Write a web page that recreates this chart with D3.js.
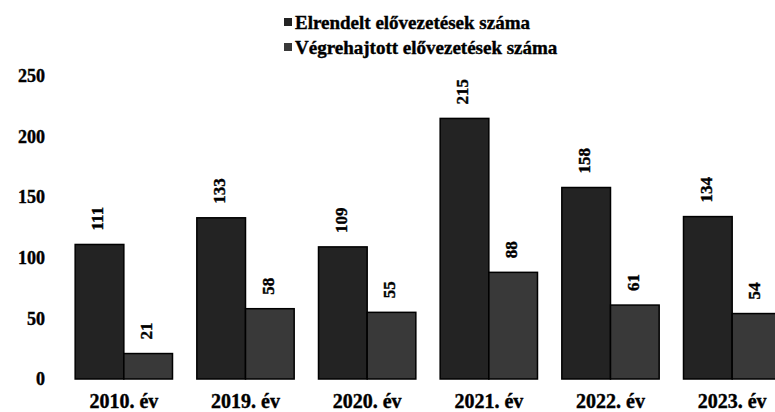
<!DOCTYPE html>
<html lang="hu">
<head>
    <meta charset="UTF-8">
    <title>Elővezetések száma</title>
    <script src="https://d3js.org/d3.v7.min.js"></script>
    <style>
        body { margin: 0; background: #fff; }
        text { font-family: "Liberation Serif", "Times New Roman", serif; font-weight: bold; fill: #000; stroke: #000; stroke-width: 0.4px; }
        .y-axis .tick text { font-size: 18px; }
        .x-axis .tick text { font-size: 20px; }
        .val { font-size: 17px; }
        .legend text { font-size: 19px; }
    </style>
</head>
<body>
    <svg id="chart" width="775" height="412"></svg>
    <script>
        // Data
        const years = ["2010. év", "2019. év", "2020. év", "2021. év", "2022. év", "2023. év"];
        const ordered = [111, 133, 109, 215, 158, 134];   // Elrendelt
        const executed = [21, 58, 55, 88, 61, 54];        // Végrehajtott
        const seriesNames = ["Elrendelt elővezetések száma", "Végrehajtott elővezetések száma"];
        const yTicks = [0, 50, 100, 150, 200, 250];
        const colors = ["#232323", "#393939"];

        const svg = d3.select("#chart");

        const x = d3.scaleBand()
            .domain(years)
            .range([63, 793])
            .paddingInner(0.2)
            .paddingOuter(0.1);

        const sub = d3.scaleBand()
            .domain([0, 1])
            .range([0, x.bandwidth()]);

        const y = d3.scaleLinear()
            .domain([0, 250])
            .range([379, 76]);

        // bars
        const groups = svg.selectAll(".grp")
            .data(years)
            .enter().append("g")
            .attr("class", "grp")
            .attr("transform", d => `translate(${x(d)},0)`);

        groups.selectAll("rect")
            .data((d, i) => [ordered[i], executed[i]])
            .enter().append("rect")
            .attr("x", (d, j) => sub(j))
            .attr("y", d => y(d))
            .attr("width", sub.bandwidth())
            .attr("height", d => y(0) - y(d))
            .attr("fill", (d, j) => colors[j])
            .attr("stroke", "#000")
            .attr("stroke-width", 1.5);

        // value labels, rotated
        groups.selectAll(".val")
            .data((d, i) => [ordered[i], executed[i]])
            .enter().append("text")
            .attr("class", "val")
            .attr("text-anchor", "start")
            .attr("dy", "0.35em")
            .attr("transform", (d, j) => `translate(${sub(j) + sub.bandwidth() / 2 - 2},${y(d) - 14}) rotate(-90)`)
            .text(d => d);

        // y axis
        const yAxis = svg.append("g")
            .attr("class", "y-axis")
            .attr("transform", "translate(45,0)")
            .call(d3.axisLeft(y).tickValues(yTicks).tickSize(0).tickPadding(0));
        yAxis.select(".domain").remove();

        // x axis
        const xAxis = svg.append("g")
            .attr("class", "x-axis")
            .attr("transform", `translate(0,${y(0)})`)
            .call(d3.axisBottom(x).tickSize(0).tickPadding(15));
        xAxis.select(".domain").remove();

        // legend
        const legend = svg.append("g").attr("class", "legend");
        seriesNames.forEach((name, i) => {
            const ly = 22 + i * 25;
            legend.append("rect")
                .attr("x", 284).attr("y", ly - 4)
                .attr("width", 8).attr("height", 8)
                .attr("fill", colors[i]);
            legend.append("text")
                .attr("x", 295).attr("y", ly)
                .attr("dy", "0.35em")
                .text(name);
        });
    </script>
</body>
</html>
